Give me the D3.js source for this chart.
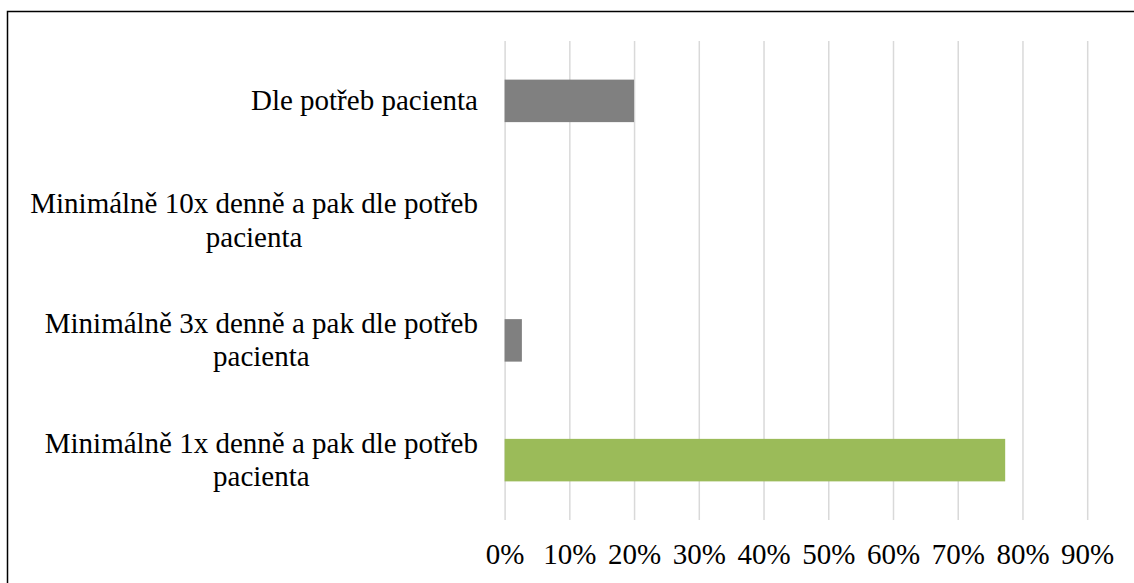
<!DOCTYPE html>
<html><head><meta charset="utf-8">
<script src="https://cdn.jsdelivr.net/npm/d3@7"></script>
<style>
html,body{margin:0;padding:0;background:#fff;}
svg{display:block;}
</style></head>
<body>
<svg id="chart" width="1134" height="583"></svg>
<script>
const categories = [
  "Dle potřeb pacienta",
  "Minimálně 10x denně a pak dle potřeb pacienta",
  "Minimálně 3x denně a pak dle potřeb pacienta",
  "Minimálně 1x denně a pak dle potřeb pacienta"
];
const values = [0.20, 0.0, 0.0267, 0.7733];
const barColors = ["#808080", "#808080", "#808080", "#9BBB59"];
const tickValues = [0, 0.1, 0.2, 0.3, 0.4, 0.5, 0.6, 0.7, 0.8, 0.9];

const svg = d3.select("#chart");
const W = 1134, H = 583;
const plot = {left: 504.6, right: 1087.2, top: 41, bottom: 520};
const fontFamily = "'Liberation Serif','Times New Roman',serif";
const fontSize = 29;

svg.append("rect").attr("x", 7.5).attr("y", 11.5).attr("width", W + 10).attr("height", H + 10)
  .attr("fill", "#fff").attr("stroke", "#000").attr("stroke-width", 1.5);

const x = d3.scaleLinear().domain([0, 0.9]).range([plot.left, plot.right]);
const y = d3.scaleBand().domain(categories).range([plot.top, plot.bottom])
  .paddingInner(0.645).paddingOuter(0.3225);

// gridlines
const grid = d3.axisBottom(x).tickValues(tickValues).tickSize(-(plot.bottom - plot.top)).tickFormat("");
const gg = svg.append("g").attr("transform", `translate(0,${plot.bottom})`).call(grid);
gg.select(".domain").remove();
gg.selectAll("line").attr("stroke", "#d9d9d9").attr("stroke-width", 1.5);

// bars
svg.append("g").selectAll("rect").data(categories).join("rect")
  .attr("x", x(0))
  .attr("y", d => y(d))
  .attr("height", y.bandwidth())
  .attr("width", (d, i) => x(values[i]) - x(0))
  .attr("fill", (d, i) => barColors[i]);

// x axis labels
const xa = d3.axisBottom(x).tickValues(tickValues).tickSize(0).tickPadding(0)
  .tickFormat(d3.format(".0%"));
const xg = svg.append("g").attr("transform", `translate(0,${plot.bottom})`).call(xa);
xg.select(".domain").remove();
xg.selectAll("text").attr("font-family", fontFamily).attr("font-size", fontSize)
  .attr("fill", "#000").attr("dy", null).attr("y", 44);

// y labels (wrapped, centered lines, block right-aligned)
const labelRight = 478;
const maxW = 458;
const lineH = 33.5;
const lg = svg.append("g");
categories.forEach(cat => {
  const words = cat.split(" ");
  const tmp = lg.append("text").attr("font-family", fontFamily).attr("font-size", fontSize);
  const lines = [];
  let cur = [];
  words.forEach(w => {
    const test = cur.concat([w]).join(" ");
    tmp.text(test);
    if (tmp.node().getComputedTextLength() > maxW && cur.length) {
      lines.push(cur.join(" "));
      cur = [w];
    } else cur.push(w);
  });
  lines.push(cur.join(" "));
  const widths = lines.map(l => { tmp.text(l); return tmp.node().getComputedTextLength(); });
  tmp.remove();
  const blockW = Math.max(...widths);
  const cx = labelRight - blockW / 2;
  const cy = y(cat) + y.bandwidth() / 2;
  const t = lg.append("text").attr("font-family", fontFamily).attr("font-size", fontSize)
    .attr("fill", "#000").attr("text-anchor", "middle");
  lines.forEach((l, i) => {
    t.append("tspan").attr("x", cx)
      .attr("y", cy + (i - (lines.length - 1) / 2) * lineH)
      .attr("dy", "0.32em").text(l);
  });
});
</script>
</body></html>
